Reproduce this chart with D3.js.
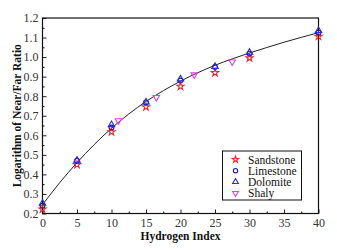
<!DOCTYPE html>
<html>
<head>
<meta charset="utf-8">
<script src="https://cdn.jsdelivr.net/npm/d3@7"></script>
<style>
  body { margin: 0; background: #fff; }
  text { font-family: "Liberation Serif", "Times New Roman", serif; }
</style>
</head>
<body>
<script>
// hydrogen index vs log(near/far) ratio

const hiPoints = [0, 5, 10, 15, 20, 25, 30, 40];
const sandstone = [0.222, 0.450, 0.617, 0.745, 0.850, 0.920, 0.995, 1.106];
const limestone = [0.240, 0.470, 0.640, 0.768, 0.880, 0.950, 1.018, 1.125];
const dolomite  = [0.252, 0.472, 0.654, 0.770, 0.888, 0.952, 1.024, 1.135];

const shalyHI  = [11, 16.5, 22, 27.5];
const shalyVal = [0.675, 0.794, 0.910, 0.976];

// fitted curve
const fitHI  = [0, 2.5, 5, 7.5, 10, 12.5, 15, 17.5, 20, 22.5, 25, 27.5, 30, 32.5, 35, 37.5, 40];
const fitVal = [0.245, 0.358, 0.460, 0.553, 0.636, 0.709, 0.773, 0.828, 0.877, 0.920, 0.958, 0.991, 1.021, 1.049, 1.076, 1.101, 1.125];

const xTicks = [0, 5, 10, 15, 20, 25, 30, 35, 40];
const yTicks = [0.2, 0.3, 0.4, 0.5, 0.6, 0.7, 0.8, 0.9, 1.0, 1.1, 1.2];

const W = 337, H = 251;
const margin = {top: 18, right: 18.5, bottom: 37.5, left: 42.5};
const innerW = W - margin.left - margin.right;
const innerH = H - margin.top - margin.bottom;

const svg = d3.select("body").append("svg")
    .attr("width", W)
    .attr("height", H);

const g = svg.append("g")
    .attr("transform", "translate(" + margin.left + "," + margin.top + ")");

const x = d3.scaleLinear().domain([0, 40]).range([0, innerW]);
const y = d3.scaleLinear().domain([0.2, 1.2]).range([innerH, 0]);

// minor ticks
g.append("g")
    .attr("transform", "translate(0," + innerH + ")")
    .call(d3.axisBottom(x).tickValues(d3.range(2.5, 40, 5)).tickSize(-2).tickFormat(""))
    .call(a => a.select(".domain").remove());
g.append("g")
    .call(d3.axisLeft(y).tickValues(d3.range(0.25, 1.2, 0.1)).tickSize(-2).tickFormat(""))
    .call(a => a.select(".domain").remove());

const xAxis = g.append("g")
    .attr("transform", "translate(0," + innerH + ")")
    .call(d3.axisBottom(x).tickValues(xTicks).tickSize(-4).tickPadding(5).tickFormat(d3.format("d")));
const yAxis = g.append("g")
    .call(d3.axisLeft(y).tickValues(yTicks).tickSize(-4).tickPadding(4).tickFormat(d3.format(".1f")));

[xAxis, yAxis].forEach(a => {
  a.selectAll("text").attr("font-size", 12).attr("font-family", "Liberation Serif").attr("fill", "#333");
  a.selectAll("line").attr("stroke", "#222");
  a.select(".domain").remove();
});

// frame
g.append("rect")
    .attr("width", innerW)
    .attr("height", innerH)
    .attr("fill", "none")
    .attr("stroke", "#111")
    .attr("stroke-width", 1.2);

// fit line
const line = d3.line()
    .x((d, i) => x(fitHI[i]))
    .y(d => y(d))
    .curve(d3.curveMonotoneX);
g.append("path")
    .datum(fitVal)
    .attr("d", line)
    .attr("fill", "none")
    .attr("stroke", "#222")
    .attr("stroke-width", 1);

const series = [
  {name: "Sandstone", xs: hiPoints, ys: sandstone, sym: d3.symbolStar, size: 16, color: "#e8282e", rot: 0},
  {name: "Limestone", xs: hiPoints, ys: limestone, sym: d3.symbolCircle, size: 18, color: "#1c1c8a", rot: 0},
  {name: "Dolomite",  xs: hiPoints, ys: dolomite,  sym: d3.symbolTriangle, size: 18, color: "#2a2ae0", rot: 0},
  {name: "Shaly",     xs: shalyHI,  ys: shalyVal,  sym: d3.symbolTriangle, size: 18, color: "#e040e8", rot: 180}
];

series.forEach(s => {
  const path = d3.symbol().type(s.sym).size(s.size)();
  g.append("g").selectAll("path")
    .data(s.ys)
    .join("path")
      .attr("d", path)
      .attr("transform", (d, i) => "translate(" + x(s.xs[i]) + "," + y(d) + ") rotate(" + s.rot + ")")
      .attr("fill", "none")
      .attr("stroke", s.color)
      .attr("stroke-width", 1.1);
});

// legend
const legend = svg.append("g").attr("transform", "translate(222.5,151)");
legend.append("rect")
    .attr("width", 79)
    .attr("height", 49)
    .attr("fill", "#fff")
    .attr("stroke", "#111")
    .attr("stroke-width", 1);
series.forEach((s, i) => {
  const row = legend.append("g").attr("transform", "translate(0," + (8.5 + i * 11.2) + ")");
  row.append("path")
    .attr("d", d3.symbol().type(s.sym).size(s.size * 0.8)())
    .attr("transform", "translate(13,0) rotate(" + s.rot + ")")
    .attr("fill", "none")
    .attr("stroke", s.color)
    .attr("stroke-width", 1.1);
  row.append("text")
    .attr("x", 25.5)
    .attr("y", 4)
    .attr("font-size", 11.5)
    .attr("fill", "#111")
    .text(s.name);
});

// axis titles
svg.append("text")
    .attr("x", margin.left + innerW / 2)
    .attr("y", 240)
    .attr("text-anchor", "middle")
    .attr("font-size", 11.5)
    .attr("font-weight", "bold")
    .attr("fill", "#111")
    .text("Hydrogen Index");

svg.append("text")
    .attr("transform", "translate(21," + (margin.top + innerH / 2) + ") rotate(-90)")
    .attr("text-anchor", "middle")
    .attr("font-size", 11.5)
    .attr("font-weight", "bold")
    .attr("fill", "#111")
    .text("Logarithm of  Near/Far Ratio");
</script>
</body>
</html>
